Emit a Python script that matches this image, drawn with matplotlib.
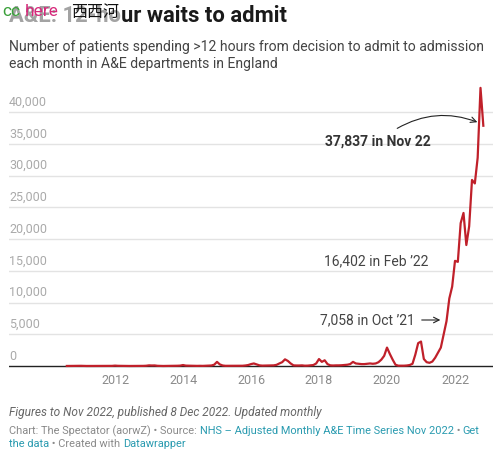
"""12-hour trolley waits in A&E, monthly, England."""
import matplotlib
matplotlib.use("Agg")
import matplotlib.pyplot as plt
import matplotlib.patches as patches
import numpy as np
import pandas as pd

plt.rcParams["font.family"] = ["Roboto", "Noto Sans CJK SC", "DejaVu Sans"]

# Monthly values, Aug 2010 to Nov 2022
waits_2010 = [5, 10, 5, 15, 40]
waits_2011 = [30, 10, 5, 5, 5, 5, 5, 5, 5, 5, 10, 20]
waits_2012 = [60, 30, 20, 10, 10, 5, 5, 5, 5, 10, 20, 40]
waits_2013 = [100, 80, 90, 30, 10, 5, 10, 10, 20, 30, 40, 60]
waits_2014 = [150, 60, 50, 30, 20, 20, 30, 20, 40, 50, 80, 200]
waits_2015 = [650, 250, 80, 30, 30, 20, 20, 20, 30, 40, 80, 150]
waits_2016 = [300, 400, 250, 100, 60, 70, 90, 80, 100, 180, 400, 600]
waits_2017 = [1050, 800, 400, 100, 80, 80, 100, 50, 60, 100, 150, 400]
waits_2018 = [1100, 650, 900, 300, 100, 80, 100, 100, 120, 160, 200, 300]
waits_2019 = [650, 400, 350, 300, 300, 350, 400, 350, 400, 600, 1000, 1600]
waits_2020 = [2900, 1900, 1000, 200, 50, 50, 50, 80, 150, 350, 1800, 3600]
waits_2021 = [3850, 1100, 600, 500, 700, 1300, 2100, 2900, 5000, 7058, 10650, 12500]
waits_2022 = [16560, 16402, 22500, 24100, 19050, 22000, 29300, 28750, 32800,
              43800, 37837]

waits = (waits_2010 + waits_2011 + waits_2012 + waits_2013 + waits_2014
         + waits_2015 + waits_2016 + waits_2017 + waits_2018 + waits_2019
         + waits_2020 + waits_2021 + waits_2022)
months = pd.date_range("2010-08-01", periods=len(waits), freq="MS")
xpos = months.year + (months.month - 1) / 12

year_ticks = [2012, 2014, 2016, 2018, 2020, 2022]
y_ticks = [0, 5000, 10000, 15000, 20000, 25000, 30000, 35000, 40000]

RED = "#c0202a"
GREY = "#8a8a8a"
LINK = "#2a9bb0"

W, H = 499, 457
fig = plt.figure(figsize=(W / 100, H / 100), dpi=100)

# axes placed in pixel coordinates
ax_left, ax_right, ax_top, ax_bot = 9, 493, 80, 370
ax = fig.add_axes([ax_left / W, 1 - ax_bot / H,
                   (ax_right - ax_left) / W, (ax_bot - ax_top) / H])
px_per_val = 254 / 40000
ax.set_ylim(-(ax_bot - 366) / px_per_val, 40000 + (112 - ax_top) / px_per_val)
ax.set_xlim(2012 - (115 - ax_left) / 34, 2012 + (ax_right - 115) / 34)
ax.axis("off")

for v in y_ticks[1:]:
    ax.axhline(v, color="#e3e3e3", lw=1, zorder=0)
for v in y_ticks:
    ax.annotate(f"{v:,}", xy=(0, v), xycoords=("axes fraction", "data"),
                xytext=(0, 2.5), textcoords="offset points",
                fontsize=9, color="#aaaaaa", va="bottom", ha="left")
ax.axhline(0, color="#222222", lw=1, zorder=1)

for yr in year_ticks:
    ax.annotate(str(yr), xy=(yr, 0), xycoords="data",
                xytext=(0, -6), textcoords="offset points",
                fontsize=9, color=GREY, ha="center", va="top")

ax.plot(xpos, waits, color=RED, lw=1.6, zorder=3, solid_joinstyle="round")

# annotations
i_nov22 = len(waits) - 1
i_oct21 = list(months).index(pd.Timestamp("2021-10-01"))
i_feb22 = list(months).index(pd.Timestamp("2022-02-01"))

ax.text(2018.17, 35400, "37,837 in Nov 22", fontsize=10, fontweight="bold",
        color="#333333", va="center", ha="left")
ax.annotate("", xy=(xpos[i_nov22] - 0.1, waits[i_nov22] + 400),
            xytext=(2020.23, 37200),
            arrowprops=dict(arrowstyle="->", color="#222222", lw=0.8,
                            connectionstyle="arc3,rad=-0.25"))
ax.text(2018.15, 16425, f"{waits[i_feb22]:,} in Feb \u201922", fontsize=10,
        color="#444444", va="center", ha="left")
ax.text(2018.03, 7244, f"{waits[i_oct21]:,} in Oct \u201921", fontsize=10,
        color="#444444", va="center", ha="left")
ax.annotate("", xy=(xpos[i_oct21] - 0.1, 7244), xytext=(2020.94, 7244),
            arrowprops=dict(arrowstyle="->", color="#222222", lw=0.8))

# header
fig.text(9 / W, 1 - 22 / H, "A&E: 12-hour waits to admit", fontsize=15.8,
         fontweight="bold", color="#1a1a1a", va="baseline", ha="left")
fig.patches.append(patches.Rectangle((0, 1 - 28 / H), 121 / W, 28 / H,
                                     transform=fig.transFigure, color="white",
                                     alpha=0.6, zorder=5))
fig.text(2 / W, 1 - 16 / H, "cc", fontsize=12.5, color="#3aa03a",
         va="baseline", ha="left", zorder=6)
fig.text(25 / W, 1 - 16 / H, "here", fontsize=12.5, color="#d6287a",
         va="baseline", ha="left", zorder=6)
fig.text(71 / W, 1 - 17 / H, "西西河", fontsize=11.5, color="#111111",
         va="baseline", ha="left", zorder=6)

fig.text(9 / W, 1 - 51 / H,
         "Number of patients spending >12 hours from decision to admit to admission",
         fontsize=10.1, color="#444444", va="baseline", ha="left")
fig.text(9 / W, 1 - 68 / H, "each month in A&E departments in England",
         fontsize=10.1, color="#444444", va="baseline", ha="left")

# footer
fig.text(9 / W, 1 - 416 / H,
         "Figures to Nov 2022, published 8 Dec 2022. Updated monthly",
         fontsize=8.6, style="italic", color="#666666", va="baseline", ha="left")

def footer_line(y, parts):
    x = 9
    renderer = fig.canvas.get_renderer()
    for txt, col in parts:
        t = fig.text(x / W, 1 - y / H, txt, fontsize=7.9, color=col,
                     va="baseline", ha="left")
        x += t.get_window_extent(renderer).width

footer_line(434, [("Chart: The Spectator (aorwZ) \u2022 Source: ", GREY),
                  ("NHS \u2013 Adjusted Monthly A&E Time Series Nov 2022", LINK),
                  (" \u2022 ", GREY), ("Get", LINK)])
footer_line(447, [("the data", LINK), (" \u2022 Created with ", GREY),
                  ("Datawrapper", LINK)])

fig.savefig("out.png", dpi=100)
